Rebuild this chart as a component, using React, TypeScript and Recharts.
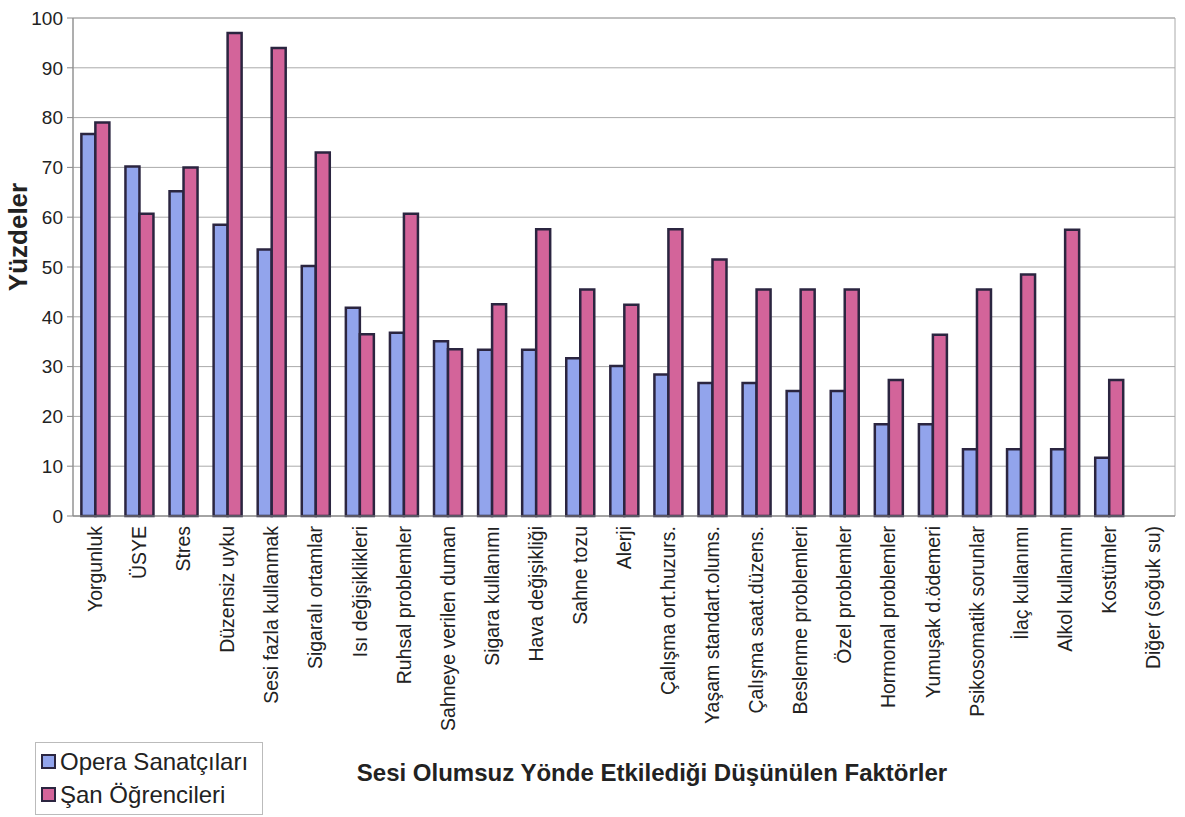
import { BarChart, Bar, XAxis, YAxis, CartesianGrid, ReferenceArea } from 'recharts';

// categories (x axis)
const factors = [
  'Yorgunluk',
  'ÜSYE',
  'Stres',
  'Düzensiz uyku',
  'Sesi fazla kullanmak',
  'Sigaralı ortamlar',
  'Isı değişiklikleri',
  'Ruhsal problemler',
  'Sahneye verilen duman',
  'Sigara kullanımı',
  'Hava değişikliği',
  'Sahne tozu',
  'Alerji',
  'Çalışma ort.huzurs.',
  'Yaşam standart.olums.',
  'Çalışma saat.düzens.',
  'Beslenme problemleri',
  'Özel problemler',
  'Hormonal problemler',
  'Yumuşak d.ödemeri',
  'Psikosomatik sorunlar',
  'İlaç kullanımı',
  'Alkol kullanımı',
  'Kostümler',
  'Diğer (soğuk su)',
];

const operaValues = [
  76.7, 70.2, 65.2, 58.5, 53.5, 50.2, 41.8, 36.8, 35.1, 33.4, 33.4, 31.7, 30.1, 28.4, 26.7, 26.7,
  25.1, 25.1, 18.4, 18.4, 13.4, 13.4, 13.4, 11.7, null,
];

const sanValues = [
  79, 60.7, 70, 97, 94, 73, 36.5, 60.7, 33.5, 42.5, 57.6, 45.5, 42.4, 57.6, 51.5, 45.5, 45.5, 45.5,
  27.3, 36.4, 45.5, 48.5, 57.5, 27.3, null,
];

const yTicks = [0, 10, 20, 30, 40, 50, 60, 70, 80, 90, 100];

const SERIES_OPERA = 'Opera Sanatçıları';
const SERIES_SAN = 'Şan Öğrencileri';

const data = factors.map((name, i) => ({
  name,
  opera: operaValues[i],
  san: sanValues[i],
}));

const FONT = '"Liberation Sans", Arial, sans-serif';
const BLUE = '#92a4ec';
const PINK = '#d3649a';
const OUTLINE = '#2b2540';

function FactorTick(props: any) {
  const { x, y, payload } = props;
  return (
    <text
      x={x}
      y={y}
      transform={`rotate(-90, ${x}, ${y})`}
      dx={-2}
      dy={7}
      textAnchor="end"
      style={{ fontSize: 19.5, fontFamily: FONT }}
      fill="#222"
    >
      {payload.value}
    </text>
  );
}

function LegendBox() {
  const items = [
    { label: SERIES_OPERA, color: BLUE },
    { label: SERIES_SAN, color: PINK },
  ];
  return (
    <div
      style={{
        position: 'absolute',
        left: 35,
        top: 742,
        width: 228,
        height: 73,
        boxSizing: 'border-box',
        border: '1px solid #bbb',
        padding: '2px 5px',
        fontFamily: FONT,
        fontSize: 24,
        color: '#222',
        background: '#fff',
      }}
    >
      {items.map((it) => (
        <div key={it.label} style={{ display: 'flex', alignItems: 'center', height: 33 }}>
          <span
            style={{
              display: 'inline-block',
              width: 11,
              height: 11,
              background: it.color,
              border: `2px solid ${OUTLINE}`,
              marginRight: 4,
            }}
          />
          {it.label}
        </div>
      ))}
    </div>
  );
}

export default function App() {
  return (
    <div style={{ position: 'absolute', left: 0, top: 0, width: 1185, height: 817, background: '#fff' }}>
      <BarChart
        width={1185}
        height={817}
        data={data}
        margin={{ top: 18, right: 10, left: 0, bottom: 0 }}
        barCategoryGap="19%"
        barGap={0}
      >
        <CartesianGrid vertical={false} stroke="#aaa" strokeWidth={1} />
        <ReferenceArea y1={0} y2={100} fill="none" stroke="#aaa" strokeWidth={1} ifOverflow="visible" />
        <XAxis
          dataKey="name"
          interval={0}
          height={301}
          tick={<FactorTick />}
          tickLine={false}
          axisLine={{ stroke: '#888' }}
        />
        <YAxis
          domain={[0, 100]}
          ticks={yTicks}
          width={73}
          axisLine={{ stroke: '#888' }}
          tickLine={{ stroke: '#888' }}
          tickSize={6}
          tickMargin={4}
          tick={{ fontSize: 19, fontFamily: FONT, fill: '#222' }}
        />
        <Bar
          dataKey="opera"
          name={SERIES_OPERA}
          fill={BLUE}
          stroke={OUTLINE}
          strokeWidth={2.5}
          isAnimationActive={false}
        />
        <Bar
          dataKey="san"
          name={SERIES_SAN}
          fill={PINK}
          stroke={OUTLINE}
          strokeWidth={2.5}
          isAnimationActive={false}
        />
      </BarChart>
      <div
        style={{
          position: 'absolute',
          left: 18,
          top: 237,
          transform: 'translate(-50%, -50%) rotate(-90deg)',
          fontFamily: FONT,
          fontSize: 26,
          fontWeight: 'bold',
          color: '#222',
          whiteSpace: 'nowrap',
        }}
      >
        Yüzdeler
      </div>
      <div
        style={{
          position: 'absolute',
          left: 652,
          top: 773,
          transform: 'translate(-50%, -50%)',
          fontFamily: FONT,
          fontSize: 24,
          fontWeight: 'bold',
          color: '#222',
          whiteSpace: 'nowrap',
        }}
      >
        Sesi Olumsuz Yönde Etkilediği Düşünülen Faktörler
      </div>
      <LegendBox />
    </div>
  );
}
